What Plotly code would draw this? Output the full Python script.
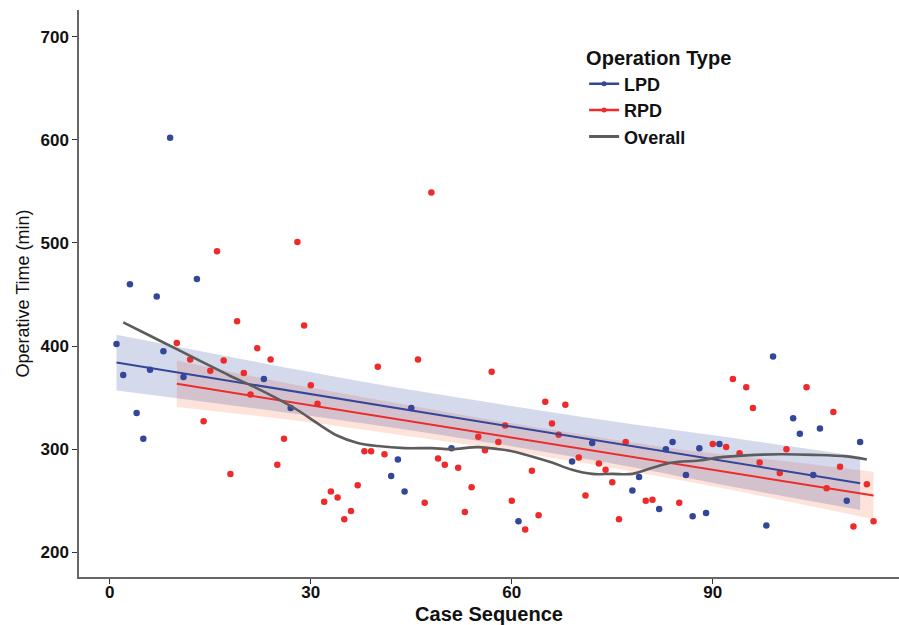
import plotly.graph_objects as go

# ---------------- data ----------------
case_seq = list(range(1, 115))
op_type = ["LPD"] * 9 + ["RPD", "LPD", "RPD", "LPD"] + ["RPD"] * 9 + ["LPD", "RPD", "RPD", "RPD", "LPD"] + \
    ["RPD"] * 14 + ["LPD"] * 4 + ["RPD"] * 5 + ["LPD"] + ["RPD"] * 9 + ["LPD", "RPD", "RPD", "RPD", "RPD", "RPD", "RPD", "RPD",
    "LPD", "RPD", "RPD", "LPD", "RPD", "RPD", "RPD", "RPD", "RPD", "LPD", "LPD", "RPD", "RPD", "LPD", "LPD", "LPD",
    "RPD", "LPD", "LPD", "LPD", "LPD", "RPD", "LPD", "RPD", "RPD", "RPD", "RPD", "RPD", "RPD", "LPD", "LPD", "RPD",
    "RPD", "LPD", "LPD", "RPD", "LPD", "LPD", "RPD", "RPD", "RPD", "LPD", "RPD", "LPD", "RPD", "RPD"]
op_time = [402, 372, 460, 335, 310, 377, 448, 395, 602, 403,
           370, 387, 465, 327, 376, 492, 386, 276, 424, 374,
           353, 398, 368, 387, 285, 310, 340, 501, 420, 362,
           344, 249, 259, 253, 232, 240, 265, 298, 298, 380,
           295, 274, 290, 259, 340, 387, 248, 549, 291, 285,
           301, 282, 239, 263, 312, 299, 375, 307, 323, 250,
           230, 222, 279, 236, 346, 325, 314, 343, 288, 292,
           255, 306, 286, 280, 268, 232, 307, 260, 273, 250,
           251, 242, 300, 307, 248, 275, 235, 301, 238, 305,
           305, 302, 368, 296, 360, 340, 287, 226, 390, 277,
           300, 330, 315, 360, 275, 320, 262, 336, 283, 250,
           225, 307, 266, 230]

# linear fits (as drawn in the reference)
lpd_fit_x = [1, 112]
lpd_fit_y = [384, 267]
rpd_fit_x = [10, 114]
rpd_fit_y = [363.4, 255]

# confidence bands
lpd_band_x = [1, 20, 40, 56, 75, 95, 112]
lpd_band_lo = [357, 341, 323, 307, 286, 261, 241]
lpd_band_hi = [411, 387, 363, 346, 327, 309, 293]
rpd_band_x = [10, 25, 40, 62, 85, 100, 114]
rpd_band_lo = [341, 330, 317, 296, 270, 251, 232]
rpd_band_hi = [386, 366, 348, 323, 300, 289, 278]

# overall smoothed curve
overall_x = [2, 6, 10, 14, 18, 22, 25, 28, 31, 34, 37, 40, 44, 48, 51, 55, 58, 60, 63,
             66, 69, 72, 75, 78, 81, 84, 88, 91, 95, 100, 105, 110, 113]
overall_y = [423, 410, 397, 384, 371, 359, 349, 338, 325, 313, 306, 303, 301, 301, 300, 302, 300, 298, 293,
             287, 280, 276, 276, 276, 282, 287, 289, 292, 294, 295, 294.5, 293, 290]

x_ticks = [0, 30, 60, 90]
y_ticks = [200, 300, 400, 500, 600, 700]

BLUE = "#33479a"
RED = "#ee2b2b"
GRAY = "#5c5c5c"

fig = go.Figure()

# bands
fig.add_trace(go.Scatter(x=rpd_band_x, y=rpd_band_lo, mode="lines", line=dict(width=0, shape="spline"),
                         hoverinfo="skip", showlegend=False))
fig.add_trace(go.Scatter(x=rpd_band_x, y=rpd_band_hi, mode="lines", line=dict(width=0, shape="spline"),
                         fill="tonexty", fillcolor="rgba(245,115,65,0.2)", hoverinfo="skip", showlegend=False))
fig.add_trace(go.Scatter(x=lpd_band_x, y=lpd_band_lo, mode="lines", line=dict(width=0, shape="spline"),
                         hoverinfo="skip", showlegend=False))
fig.add_trace(go.Scatter(x=lpd_band_x, y=lpd_band_hi, mode="lines", line=dict(width=0, shape="spline"),
                         fill="tonexty", fillcolor="rgba(45,65,160,0.2)", hoverinfo="skip", showlegend=False))

# points
lx = [c for c, t in zip(case_seq, op_type) if t == "LPD"]
ly = [v for v, t in zip(op_time, op_type) if t == "LPD"]
rx = [c for c, t in zip(case_seq, op_type) if t == "RPD"]
ry = [v for v, t in zip(op_time, op_type) if t == "RPD"]
fig.add_trace(go.Scatter(x=lx, y=ly, mode="markers", marker=dict(color=BLUE, size=6.5), showlegend=False))
fig.add_trace(go.Scatter(x=rx, y=ry, mode="markers", marker=dict(color=RED, size=6.5), showlegend=False))

# fit lines
fig.add_trace(go.Scatter(x=lpd_fit_x, y=lpd_fit_y, mode="lines", line=dict(color=BLUE, width=2), showlegend=False))
fig.add_trace(go.Scatter(x=rpd_fit_x, y=rpd_fit_y, mode="lines", line=dict(color=RED, width=2), showlegend=False))
fig.add_trace(go.Scatter(x=overall_x, y=overall_y, mode="lines", line=dict(color=GRAY, width=2.6, shape="spline"),
                         showlegend=False))

# legend entries
fig.add_trace(go.Scatter(x=[None], y=[None], mode="lines+markers", name="<b>LPD</b>",
                         line=dict(color=BLUE, width=2.5), marker=dict(color=BLUE, size=5)))
fig.add_trace(go.Scatter(x=[None], y=[None], mode="lines+markers", name="<b>RPD</b>",
                         line=dict(color=RED, width=2.5), marker=dict(color=RED, size=5)))
fig.add_trace(go.Scatter(x=[None], y=[None], mode="lines", name="<b>Overall</b>",
                         line=dict(color=GRAY, width=3)))

fig.update_layout(
    width=899, height=625,
    margin=dict(l=79, r=0, t=10, b=48),
    plot_bgcolor="white", paper_bgcolor="white",
    showlegend=True,
    legend=dict(
        title=dict(text="<b>Operation Type</b>", font=dict(family="Liberation Sans, Arial", size=20, color="#111")),
        font=dict(family="Liberation Sans, Arial", size=18, color="#111"),
        x=0.616, y=0.948, xanchor="left", yanchor="top", traceorder="normal",
        bgcolor="rgba(0,0,0,0)", itemwidth=30, tracegroupgap=0,
    ),
    xaxis=dict(
        range=[-4.6, 117.8], tickvals=x_ticks, ticktext=[f"<b>{t}</b>" for t in x_ticks],
        showgrid=False, zeroline=False, showline=True, linecolor="#666", linewidth=1.5,
        ticks="outside", ticklen=5, tickcolor="#333", tickwidth=1.2, automargin=False,
        ticklabelstandoff=-6,
        tickfont=dict(family="Liberation Sans, Arial", size=17, color="#111"),
        title=dict(text="<b>Case Sequence</b>", standoff=12,
                   font=dict(family="Liberation Sans, Arial", size=20, color="#111")),
    ),
    yaxis=dict(
        range=[176, 726], tickvals=y_ticks, ticktext=[f"<b>{t}</b>" for t in y_ticks],
        showgrid=False, zeroline=False, showline=True, linecolor="#666", linewidth=1.5,
        ticks="outside", ticklen=5, tickcolor="#333", tickwidth=1.2, automargin=False,
        tickfont=dict(family="Liberation Sans, Arial", size=17, color="#111"),
        title=dict(text="Operative Time (min)", standoff=6,
                   font=dict(family="Liberation Sans, Arial", size=18, color="#111")),
    ),
)

fig.write_html("out.html", config={"displayModeBar": False},
               post_script="document.body.style.margin='0';document.body.style.overflow='hidden';")
